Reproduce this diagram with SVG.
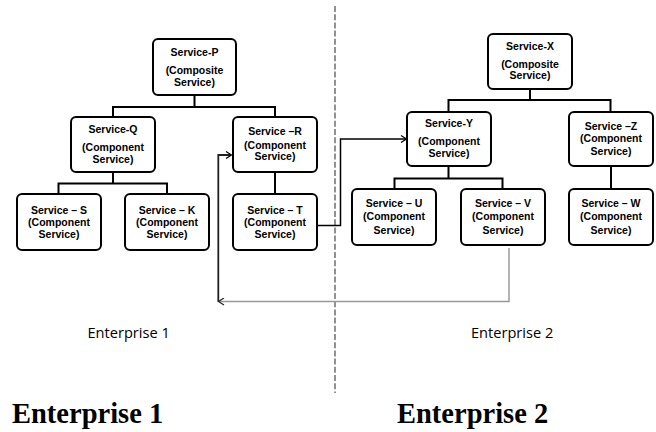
<svg xmlns="http://www.w3.org/2000/svg" width="656" height="432" viewBox="0 0 656 432">
<style>
.box{fill:#fff;stroke:#000;stroke-width:2}
.t{font-family:"Liberation Sans",Arial,sans-serif;font-weight:bold;font-size:10.5px;text-anchor:middle;fill:#000}
.ln{fill:none;stroke:#000;stroke-width:2}
.small{font-family:"Open Sans","Liberation Sans",sans-serif;font-size:14.6px;fill:#000}
.big{font-family:"Liberation Serif","Times New Roman",serif;font-weight:bold;font-size:28.5px;fill:#000}
</style>
<defs>
<marker id="ah" markerWidth="8" markerHeight="8" refX="6" refY="4" orient="auto" markerUnits="userSpaceOnUse">
<path d="M1,0.5 L6.5,4 L1,7.5" fill="none" stroke="#000" stroke-width="1.2"/>
</marker>
<marker id="ahg" markerWidth="8" markerHeight="8" refX="6" refY="4" orient="auto" markerUnits="userSpaceOnUse">
<path d="M1,0.5 L6.5,4 L1,7.5" fill="none" stroke="#222" stroke-width="1.2"/>
</marker>
</defs>
<line x1="335" y1="6" x2="335" y2="393" stroke="#777" stroke-width="1.6" stroke-dasharray="6,2.2"/>
<g id="connectors">
<path class="ln" d="M194.5,95 V107 M113,107 H275 M113,106 V117 M275,106 V117"/>
<path class="ln" d="M113,172 V183.5 M58.5,183.5 H167 M58.5,182.5 V194 M167,182.5 V194"/>
<path class="ln" d="M275,172 V194"/>
<path class="ln" d="M530,89 V100 M448.5,100 H610.5 M448.5,99 V112 M610.5,99 V112"/>
<path class="ln" d="M448.5,166 V178.5 M394.5,178.5 H502.5 M394.5,177.5 V189 M502.5,177.5 V189"/>
<path class="ln" d="M611,166 V189"/>
<path d="M317,225.5 H340.5 V139 H406" fill="none" stroke="#000" stroke-width="1.5" marker-end="url(#ah)"/>
<path d="M509,248 V301.5 H219" fill="none" stroke="#999" stroke-width="1.5" marker-end="url(#ahg)"/>
<path d="M218.3,301.5 V155 H231" fill="none" stroke="#222" stroke-width="1.8" marker-end="url(#ah)"/>
</g>
<g id="P"><rect class="box" x="153" y="39" width="83" height="56" rx="5"/>
<text class="t" x="194.5" y="55.5">Service-P</text><text class="t" x="194.5" y="73.5">(Composite</text><text class="t" x="194.5" y="85.5">Service)</text></g>
<g id="Q"><rect class="box" x="71" y="117" width="84" height="55" rx="5"/>
<text class="t" x="113" y="132.8">Service-Q</text><text class="t" x="113" y="151.2">(Component</text><text class="t" x="113" y="162.6">Service)</text></g>
<g id="R"><rect class="box" x="233" y="117" width="84" height="55" rx="5"/>
<text class="t" x="275" y="135.2">Service –R</text><text class="t" x="275" y="148.5">(Component</text><text class="t" x="275" y="160.2">Service)</text></g>
<g id="S"><rect class="box" x="17" y="194" width="84" height="56" rx="5"/>
<text class="t" x="59" y="213.5">Service – S</text><text class="t" x="59" y="226.2">(Component</text><text class="t" x="59" y="237.5">Service)</text></g>
<g id="K"><rect class="box" x="125" y="194" width="84" height="56" rx="5"/>
<text class="t" x="167" y="213.5">Service – K</text><text class="t" x="167" y="226.2">(Component</text><text class="t" x="167" y="237.5">Service)</text></g>
<g id="T"><rect class="box" x="233" y="194" width="84" height="56" rx="5"/>
<text class="t" x="275" y="213.5">Service – T</text><text class="t" x="275" y="226.2">(Component</text><text class="t" x="275" y="237.5">Service)</text></g>
<g id="X"><rect class="box" x="488" y="34" width="84" height="55" rx="5"/>
<text class="t" x="530" y="49.5">Service-X</text><text class="t" x="530" y="67.8">(Composite</text><text class="t" x="530" y="78.5">Service)</text></g>
<g id="Y"><rect class="box" x="407" y="112" width="84" height="54" rx="5"/>
<text class="t" x="449" y="126.8">Service-Y</text><text class="t" x="449" y="145.2">(Component</text><text class="t" x="449" y="156.8">Service)</text></g>
<g id="Z"><rect class="box" x="569" y="112" width="84" height="54" rx="5"/>
<text class="t" x="611" y="129.5">Service –Z</text><text class="t" x="611" y="141.8">(Component</text><text class="t" x="611" y="155.2">Service)</text></g>
<g id="U"><rect class="box" x="352" y="189" width="84" height="56" rx="5"/>
<text class="t" x="394" y="206.8">Service – U</text><text class="t" x="394" y="220.2">(Component</text><text class="t" x="394" y="233.5">Service)</text></g>
<g id="V"><rect class="box" x="461" y="189" width="84" height="56" rx="5"/>
<text class="t" x="503" y="206.8">Service – V</text><text class="t" x="503" y="220.2">(Component</text><text class="t" x="503" y="233.5">Service)</text></g>
<g id="W"><rect class="box" x="569" y="189" width="84" height="56" rx="5"/>
<text class="t" x="611" y="206.8">Service – W</text><text class="t" x="611" y="220.2">(Component</text><text class="t" x="611" y="233.5">Service)</text></g>
<text class="small" x="87.5" y="338.3">Enterprise 1</text>
<text class="small" x="471" y="338.3">Enterprise 2</text>
<text class="big" x="12" y="423.3">Enterprise 1</text>
<text class="big" x="397" y="423.3">Enterprise 2</text>
</svg>
